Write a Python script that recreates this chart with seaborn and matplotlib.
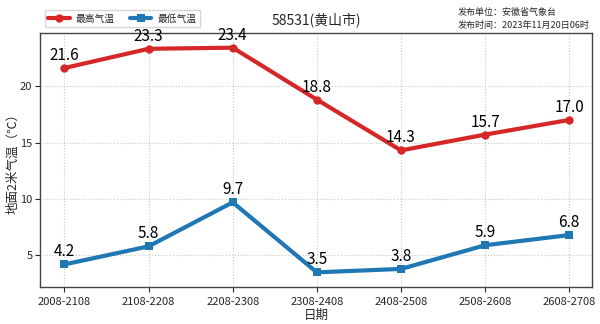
import matplotlib
matplotlib.use("Agg")
import matplotlib.pyplot as plt
import seaborn as sns
import pandas as pd

periods = ["2008-2108", "2108-2208", "2208-2308", "2308-2408",
           "2408-2508", "2508-2608", "2608-2708"]
t_max = [21.6, 23.3, 23.4, 18.8, 14.3, 15.7, 17.0]
t_min = [4.2, 5.8, 9.7, 3.5, 3.8, 5.9, 6.8]
series_names = ["最高气温", "最低气温"]
title = "58531(黄山市)"
issuer = "发布单位：安徽省气象台\n发布时间：2023年11月20日06时"

sns.set_theme(style="ticks")
plt.rcParams["font.family"] = ["Noto Sans CJK SC", "DejaVu Sans"]
plt.rcParams["axes.unicode_minus"] = False

df = pd.DataFrame({"period": periods * 2,
                   "x": list(range(len(periods))) * 2,
                   "temp": t_max + t_min,
                   "kind": [series_names[0]] * len(periods) + [series_names[1]] * len(periods)})

fig = plt.figure(figsize=(6.0, 3.24), dpi=100)
ax = fig.add_axes([40 / 600, 1 - 287 / 324, 552 / 600, 254 / 324])

palette = {series_names[0]: "#d62728", series_names[1]: "#1f77b4"}
markers = {series_names[0]: "o", series_names[1]: "s"}
sns.lineplot(data=df, x="x", y="temp", hue="kind", style="kind",
             palette=palette, markers=markers, dashes=False,
             linewidth=3, markersize=6, markeredgewidth=0, ax=ax)

for ys in (t_max, t_min):
    for xi, yi in enumerate(ys):
        ax.text(xi, yi + 0.35, f"{yi:.1f}", ha="center", va="bottom",
                fontsize=11, color="black")

ax.set_xlim(-0.29, 6.27)
ax.set_ylim(2.2, 24.7)
ax.set_xticks(range(len(periods)))
ax.set_xticklabels(periods, fontsize=8)
ax.set_yticks([5, 10, 15, 20])
ax.tick_params(axis="both", length=3.5, width=0.8, pad=2)
ax.tick_params(axis="x", pad=4)
ax.tick_params(axis="y", labelsize=8)
ax.set_xlabel("日期", fontsize=9, labelpad=1)
ax.set_ylabel("地面2米气温（℃）", fontsize=9)
ax.yaxis.set_label_coords(-0.038, 0.5)
ax.grid(True, linestyle=":", color="#c8c8c8", linewidth=0.8)
for s in ax.spines.values():
    s.set_color("#444444")
    s.set_linewidth(1.0)

handles, labels = ax.get_legend_handles_labels()
ax.legend(handles, labels, loc="lower left", bbox_to_anchor=(0.0, 1.005),
          ncol=2, fontsize=7, frameon=True, handlelength=2.2,
          handletextpad=0.6, borderpad=0.35, columnspacing=1.6,
          fancybox=False, edgecolor="#cccccc")

ax.set_title(title, fontsize=10, pad=6)
fig.text(590 / 600, 1 - 19 / 324, issuer, ha="right", va="center",
         multialignment="left", fontsize=6.5, linespacing=1.5)

fig.savefig("out.png", dpi=100)
